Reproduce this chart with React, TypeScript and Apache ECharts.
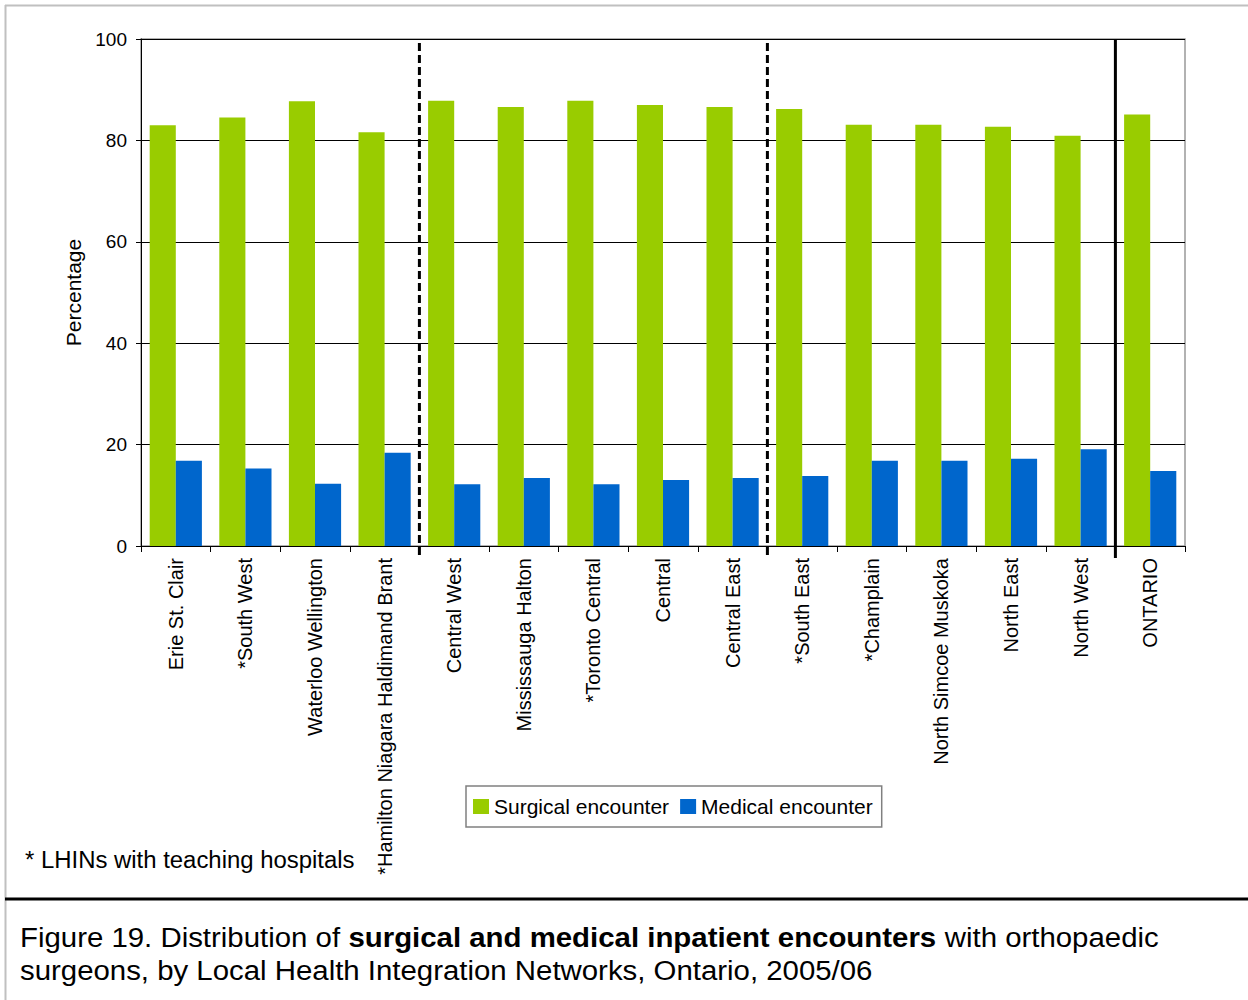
import React, { useEffect, useRef } from "react";
import * as echarts from "echarts";

const categories = [
  "Erie St. Clair",
  "*South West",
  "Waterloo Wellington",
  "*Hamilton Niagara Haldimand Brant",
  "Central West",
  "Mississauga Halton",
  "*Toronto Central",
  "Central",
  "Central East",
  "*South East",
  "*Champlain",
  "North Simcoe Muskoka",
  "North East",
  "North West",
  "ONTARIO",
];
const surgical = [83.0, 84.5, 87.7, 81.6, 87.8, 86.6, 87.8, 87.0, 86.6, 86.2, 83.1, 83.1, 82.7, 80.9, 85.1];
const medical = [16.8, 15.3, 12.3, 18.4, 12.2, 13.4, 12.2, 13.0, 13.4, 13.8, 16.8, 16.8, 17.2, 19.1, 14.8];
const yTicks = { min: 0, max: 100, interval: 20 };
// separators drawn after these category indexes
const separators = [
  { after: 3, dashed: true },
  { after: 8, dashed: true },
  { after: 13, dashed: false },
];
const footnote = "* LHINs with teaching hospitals";
const captionLine1 = "Figure 19. Distribution of {b|surgical and medical inpatient encounters} with orthopaedic";
const captionLine2 = "surgeons, by Local Health Integration Networks, Ontario, 2005/06";

const FONT = "'Liberation Sans', Arial, Helvetica, sans-serif";

export default function App() {
  const ref = useRef<HTMLDivElement>(null);
  useEffect(() => {
    if (!ref.current) return;
    const chart = echarts.init(ref.current, undefined, { renderer: "svg" });
    chart.setOption({
      animation: false,
      backgroundColor: "#ffffff",
      textStyle: { fontFamily: FONT, color: "#000" },
      grid: {
        left: 141,
        right: 63,
        top: 39,
        bottom: 454,
        show: true,
        borderColor: "#999999",
        borderWidth: 1.5,
      },
      legend: {
        left: 466,
        top: 786,
        orient: "horizontal",
        itemWidth: 16,
        itemHeight: 15,
        itemGap: 11,
        padding: [10, 9, 10, 7],
        borderColor: "#808080",
        borderWidth: 1.5,
        icon: "rect",
        textStyle: { fontSize: 21, color: "#000", fontFamily: FONT },
        data: ["Surgical encounter", "Medical encounter"],
      },
      xAxis: {
        type: "category",
        data: categories,
        axisLine: { lineStyle: { color: "#000", width: 1 } },
        axisTick: { show: true, length: 6, lineStyle: { color: "#000" } },
        axisLabel: {
          rotate: 90,
          fontSize: 20,
          margin: 12,
          color: "#000",
          fontFamily: FONT,
          interval: 0,
        },
      },
      yAxis: {
        type: "value",
        min: yTicks.min,
        max: yTicks.max,
        interval: yTicks.interval,
        name: "Percentage",
        nameLocation: "middle",
        nameGap: 43,
        nameRotate: 90,
        nameTextStyle: { fontSize: 21, color: "#000", fontFamily: FONT },
        axisLine: { show: true, lineStyle: { color: "#000", width: 1 } },
        axisTick: { show: true, length: 5, lineStyle: { color: "#000" } },
        axisLabel: { fontSize: 19, margin: 14, color: "#000", fontFamily: FONT },
        splitLine: { show: true, lineStyle: { color: "#000", width: 1 } },
      },
      series: [
        {
          name: "Surgical encounter",
          type: "bar",
          data: surgical,
          barGap: "0%",
          barCategoryGap: "25%",
          itemStyle: { color: "#99cc00" },
        },
        {
          name: "Medical encounter",
          type: "bar",
          data: medical,
          barGap: "0%",
          barCategoryGap: "25%",
          itemStyle: { color: "#0066cc" },
        },
      ],
    });

    const yTop = chart.convertToPixel({ yAxisIndex: 0 }, yTicks.max) as number;
    const yBottom = chart.convertToPixel({ yAxisIndex: 0 }, yTicks.min) as number;
    const sepEls = separators.map((s) => {
      const a = chart.convertToPixel({ xAxisIndex: 0 }, categories[s.after]) as number;
      const b = chart.convertToPixel({ xAxisIndex: 0 }, categories[s.after + 1]) as number;
      const x = (a + b) / 2;
      return {
        type: "line",
        z: 100,
        shape: { x1: x, y1: s.dashed ? yTop + 4 : yTop, x2: x, y2: yBottom + 12 },
        style: {
          stroke: "#000",
          lineWidth: 3,
          lineDash: s.dashed ? [8, 4] : null,
        },
      };
    });

    chart.setOption({
      graphic: [
        ...sepEls,
        {
          type: "line",
          z: 100,
          shape: { x1: 5, y1: 5.5, x2: 1248, y2: 5.5 },
          style: { stroke: "#c0c0c0", lineWidth: 2 },
        },
        {
          type: "line",
          z: 100,
          shape: { x1: 5.5, y1: 5, x2: 5.5, y2: 1000 },
          style: { stroke: "#c0c0c0", lineWidth: 2 },
        },
        {
          type: "line",
          z: 100,
          shape: { x1: 5, y1: 899, x2: 1248, y2: 899 },
          style: { stroke: "#000", lineWidth: 3 },
        },
        {
          type: "text",
          z: 100,
          x: 25,
          y: 860,
          scaleX: 1.04,
          style: {
            text: footnote,
            fontSize: 23,
            fontFamily: FONT,
            fill: "#000",
            verticalAlign: "middle",
          },
        },
        {
          type: "text",
          z: 100,
          x: 20,
          y: 937,
          scaleX: 1.05,
          style: {
            text: captionLine1,
            fontSize: 28,
            fontFamily: FONT,
            fill: "#000",
            verticalAlign: "middle",
            rich: {
              b: { fontWeight: "bold", fontSize: 28, fontFamily: FONT, fill: "#000" },
            },
          },
        },
        {
          type: "text",
          z: 100,
          x: 20,
          y: 970,
          scaleX: 1.05,
          style: {
            text: captionLine2,
            fontSize: 28,
            fontFamily: FONT,
            fill: "#000",
            verticalAlign: "middle",
          },
        },
      ],
    });

    return () => chart.dispose();
  }, []);

  return (
    <div
      ref={ref}
      style={{ position: "absolute", left: 0, top: 0, width: 1248, height: 1000, background: "#fff" }}
    />
  );
}
